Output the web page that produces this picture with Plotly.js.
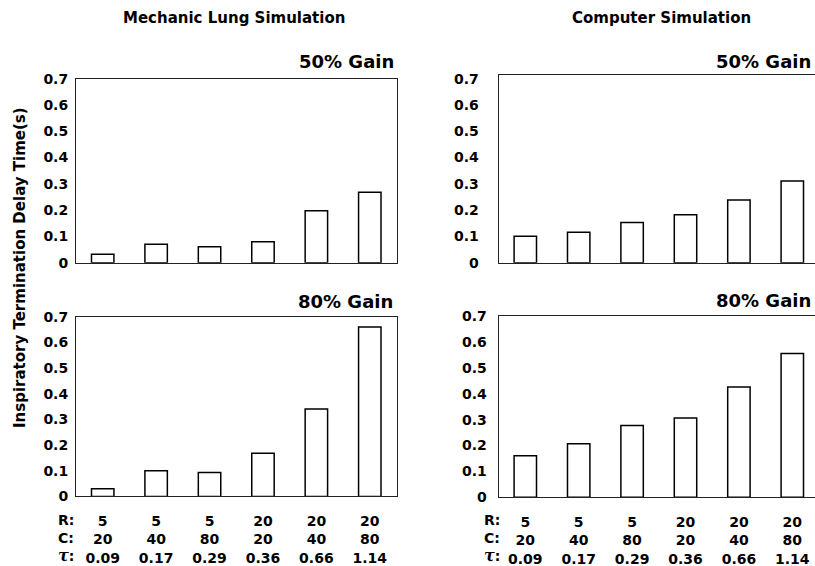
<!DOCTYPE html>
<html>
<head>
<meta charset="utf-8">
<script src="https://cdn.plot.ly/plotly-3.0.1.min.js"></script>
<style>
html, body { margin: 0; padding: 0; overflow: hidden; background: #fff; }
#chart { width: 820px; height: 566px; }
</style>
</head>
<body>
<div id="chart"></div>
<script>
// Data
const R = [5, 5, 5, 20, 20, 20];
const C = [20, 40, 80, 20, 40, 80];
const tau = ['0.09', '0.17', '0.29', '0.36', '0.66', '1.14'];

const mechanic50 = [0.032, 0.070, 0.061, 0.080, 0.198, 0.268];
const mechanic80 = [0.030, 0.100, 0.093, 0.168, 0.340, 0.660];
const computer50 = [0.101, 0.116, 0.153, 0.182, 0.239, 0.311];
const computer80 = [0.160, 0.207, 0.277, 0.306, 0.426, 0.555];

const yTicks = [0, 0.1, 0.2, 0.3, 0.4, 0.5, 0.6, 0.7];
const yTickText = ['0', '0.1', '0.2', '0.3', '0.4', '0.5', '0.6', '0.7'];

const categories = R.map((r, i) => r + '<br>' + C[i] + '<br>' + tau[i]);

const W = 820, H = 566;
const px = v => v / W;
const py = v => (H - v) / H;

const FONT = 'DejaVu Sans, Arial, sans-serif';

function barTrace(vals, xa, ya) {
  return {
    type: 'bar',
    x: categories,
    y: vals,
    xaxis: xa,
    yaxis: ya,
    marker: { color: '#ffffff', line: { color: '#000000', width: 1.5 } },
    hoverinfo: 'y',
    showlegend: false
  };
}

const traces = [
  barTrace(mechanic50, 'x', 'y'),
  barTrace(computer50, 'x2', 'y2'),
  barTrace(mechanic80, 'x3', 'y3'),
  barTrace(computer80, 'x4', 'y4')
];

function xAxis(domain, anchor, showLabels) {
  return {
    domain: domain,
    anchor: anchor,
    type: 'category',
    showline: true, mirror: true, linecolor: '#222', linewidth: 1,
    showgrid: false, zeroline: false, ticks: '',
    showticklabels: showLabels,
    ticklabelstandoff: 12,
    tickfont: { family: FONT, size: 14, color: '#000', weight: 'bold' },
    fixedrange: true
  };
}
function yAxis(domain, anchor, top, standoff) {
  return {
    domain: domain,
    anchor: anchor,
    range: [0, top],
    tickmode: 'array', tickvals: yTicks, ticktext: yTickText,
    showline: true, mirror: true, linecolor: '#222', linewidth: 1,
    showgrid: false, zeroline: false, ticks: '',
    ticklabelstandoff: standoff,
    tickfont: { family: FONT, size: 14, color: '#000', weight: 'bold' },
    fixedrange: true
  };
}

const xL = [px(76), px(396.5)];
const xR = [px(498.6), px(819)];

const TAU = '<span style="font-family:DejaVu Serif;font-size:16px"><i>τ</i></span>';

const layout = {
  width: W, height: H,
  margin: { l: 0, r: 0, t: 0, b: 0 },
  paper_bgcolor: '#fff', plot_bgcolor: '#fff',
  bargap: 0.58,
  showlegend: false,
  xaxis: xAxis(xL, 'y', false),
  yaxis: yAxis([py(262.7), py(78.7)], 'x', 0.7, 4),
  xaxis2: xAxis(xR, 'y2', false),
  yaxis2: yAxis([py(262.7), py(75.3)], 'x2', 0.713, 16),
  xaxis3: xAxis(xL, 'y3', true),
  yaxis3: yAxis([py(496.4), py(316.7)], 'x3', 0.7, 4),
  xaxis4: xAxis(xR, 'y4', true),
  yaxis4: yAxis([py(497.3), py(316)], 'x4', 0.7, 8),
  annotations: [
    { text: 'Mechanic Lung Simulation', x: px(233.7), y: py(18.3), xref: 'paper', yref: 'paper',
      xanchor: 'center', yanchor: 'middle', showarrow: false,
      font: { family: FONT, size: 15, color: '#000', weight: 'bold' } },
    { text: 'Computer Simulation', x: px(661.2), y: py(18.3), xref: 'paper', yref: 'paper',
      xanchor: 'center', yanchor: 'middle', showarrow: false,
      font: { family: FONT, size: 15, color: '#000', weight: 'bold' } },
    { text: '50% Gain', x: px(396), y: py(61.7), xref: 'paper', yref: 'paper',
      xanchor: 'right', yanchor: 'middle', showarrow: false,
      font: { family: FONT, size: 18, color: '#000', weight: 'bold' } },
    { text: '50% Gain', x: px(813), y: py(61.7), xref: 'paper', yref: 'paper',
      xanchor: 'right', yanchor: 'middle', showarrow: false,
      font: { family: FONT, size: 18, color: '#000', weight: 'bold' } },
    { text: '80% Gain', x: px(395), y: py(301.5), xref: 'paper', yref: 'paper',
      xanchor: 'right', yanchor: 'middle', showarrow: false,
      font: { family: FONT, size: 18, color: '#000', weight: 'bold' } },
    { text: '80% Gain', x: px(813), y: py(300.7), xref: 'paper', yref: 'paper',
      xanchor: 'right', yanchor: 'middle', showarrow: false,
      font: { family: FONT, size: 18, color: '#000', weight: 'bold' } },
    { text: 'Inspiratory Termination Delay Time(s)', x: px(20), y: py(268), xref: 'paper', yref: 'paper',
      xanchor: 'center', yanchor: 'middle', textangle: -90, showarrow: false,
      font: { family: FONT, size: 15, color: '#000', weight: 'bold' } },
    { text: 'R:<br>C:<br>' + TAU + ':', x: px(76), y: py(538), xref: 'paper', yref: 'paper',
      xanchor: 'right', yanchor: 'middle', align: 'left', showarrow: false,
      font: { family: FONT, size: 14, color: '#000', weight: 'bold' } },
    { text: 'R:<br>C:<br>' + TAU + ':', x: px(502), y: py(538), xref: 'paper', yref: 'paper',
      xanchor: 'right', yanchor: 'middle', align: 'left', showarrow: false,
      font: { family: FONT, size: 14, color: '#000', weight: 'bold' } }
  ]
};

Plotly.newPlot('chart', traces, layout, { staticPlot: true, displayModeBar: false });
</script>
</body>
</html>
